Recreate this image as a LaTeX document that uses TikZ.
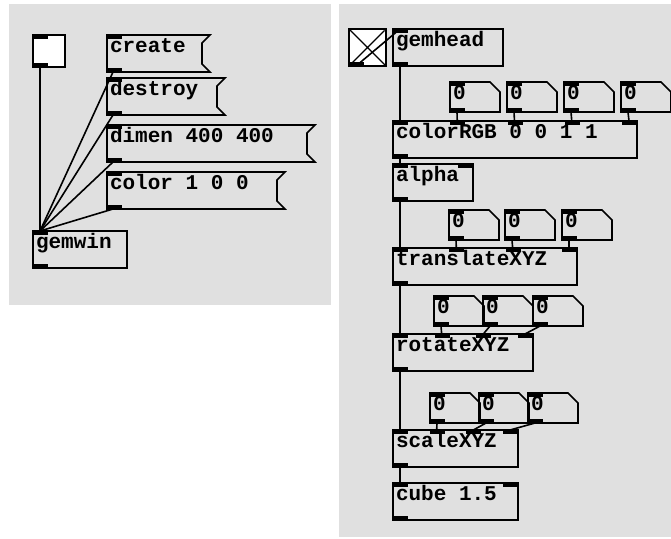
\documentclass[tikz,border=0pt]{standalone}
\usepackage{fontspec}
\usepackage{tikz}
\usetikzlibrary{calc}
\newfontfamily\pdmono{Liberation Mono}
\definecolor{canvasgray}{gray}{0.878}
\newcommand\pdfont{\pdmono\bfseries\fontsize{21}{21}\selectfont}
\tikzset{
  pdbox/.style={anchor=north west,line width=1.6pt,inner xsep=3pt,inner ysep=0pt,
                outer sep=0pt,font=\pdfont,align=left,text height=17pt,
                execute at begin node={\spaceskip=12.6pt\xspaceskip=12.6pt}},
  obj/.style={pdbox,draw,text width=#1,text depth=20pt},
  msg/.style={pdbox,text width=#1,text depth=20pt},
  num/.style={pdbox,text width=44pt,text depth=13pt},
  tgl/.style={draw,fill=white,line width=1.6pt,anchor=north west,inner sep=0pt,
              outer sep=0pt,minimum size=#1},
  boxline/.style={line width=1.6pt,line join=miter},
  wire/.style={line width=1.6pt},
  panel/.style={fill=canvasgray},
}
% message box outline with the notch on the right
\newcommand\msgframe[1]{\draw[boxline] (#1.north west) -- (#1.north east) -- ++(-8,8)
  -- ([xshift=-8pt,yshift=8pt]#1.south east) -- (#1.south east) -- (#1.south west) -- cycle;}
% number box outline, top right corner cut
\newcommand\numframe[1]{\draw[boxline] (#1.north west) -- ([xshift=-10pt]#1.north east)
  -- ([yshift=-10pt]#1.north east) -- (#1.south east) -- (#1.south west) -- cycle;}
% inlets: node, last index, spacing
\newcommand\inlets[3]{\foreach \k in {0,...,#2}{
    \fill ([xshift=\k*#3]#1.north west) rectangle ++(15,4);
    \coordinate (#1-in\k) at ([xshift=\k*#3+7]#1.north west);}}
\newcommand\outlet[1]{\fill (#1.south west) rectangle ++(15,-4);
  \coordinate (#1-out) at ([xshift=7pt]#1.south west);}

\begin{document}
\begin{tikzpicture}[x=1pt,y=-1pt]
\useasboundingbox (0,0) rectangle (671,538);
\fill[panel] (9,4) rectangle (331,305);
\fill[panel] (339,4) rectangle (671,537);

% window patch
\node[tgl=32pt] (tglwin) at (33,35) {};
\node[msg=97pt]  (create)  at (107,35)  {create};
\node[msg=112pt] (destroy) at (107,78)  {destroy};
\node[msg=202pt] (dimen)   at (107,125) {dimen 400 400};
\node[msg=172pt] (color)   at (107,172) {color 1 0 0};
\node[obj=88pt]  (gemwin)  at (33,231)  {gemwin};
\foreach \m in {create,destroy,dimen,color} {\msgframe{\m}}
\foreach \b in {tglwin,create,destroy,dimen,color,gemwin} {\inlets{\b}{0}{0}\outlet{\b}}
\draw[wire] (tglwin-out) -- (gemwin-in0);
\foreach \m in {create,destroy,dimen,color}
  \draw[wire] ([xshift=-1pt]\m-out) -- (gemwin-in0);

% render chain
\node[tgl=37pt] (tglhead) at (349,29) {};
\draw[line width=1.2pt,shorten <=2pt,shorten >=2pt]
  (tglhead.north west) -- (tglhead.south east) (tglhead.north east) -- (tglhead.south west);
\node[obj=104pt] (gemhead)      at (393,29)  {gemhead};
\node[obj=238pt] (colorRGB)     at (393,121) {colorRGB 0 0 1 1};
\node[obj=74pt]  (alpha)        at (393,164) {alpha};
\node[obj=178pt] (translateXYZ) at (393,248) {translateXYZ};
\node[obj=134pt] (rotateXYZ)    at (393,334) {rotateXYZ};
\node[obj=119pt] (scaleXYZ)     at (393,430) {scaleXYZ};
\node[obj=119pt] (cube)         at (393,483) {cube 1.5};
\foreach \i/\x in {a/450,b/507,c/564,d/621} \node[num] (rgb\i)   at (\x,82)  {0};
\foreach \i/\x in {a/449,b/505,c/562}       \node[num] (trans\i) at (\x,210) {0};
\foreach \i/\x in {a/434,b/483,c/533}       \node[num] (rot\i)   at (\x,296) {0};
\foreach \i/\x in {a/430,b/479,c/528}       \node[num] (scale\i) at (\x,393) {0};
\foreach \n in {rgba,rgbb,rgbc,rgbd,transa,transb,transc,rota,rotb,rotc,scalea,scaleb,scalec}
  {\numframe{\n}\inlets{\n}{0}{0}\outlet{\n}}

\outlet{tglhead}
\inlets{gemhead}{0}{0}\outlet{gemhead}
\inlets{colorRGB}{4}{57.25}\outlet{colorRGB}
\inlets{alpha}{1}{65}\outlet{alpha}
\inlets{translateXYZ}{3}{56.33}\outlet{translateXYZ}
\inlets{rotateXYZ}{3}{41.67}\outlet{rotateXYZ}
\inlets{scaleXYZ}{3}{36.67}\outlet{scaleXYZ}
\inlets{cube}{1}{110}\outlet{cube}

\draw[wire] (tglhead-out) -- (gemhead-in0);
\draw[wire] (gemhead-out) -- (colorRGB-in0);
\draw[wire] (colorRGB-out) -- (alpha-in0);
\draw[wire] (alpha-out) -- (translateXYZ-in0);
\draw[wire] (translateXYZ-out) -- (rotateXYZ-in0);
\draw[wire] (rotateXYZ-out) -- (scaleXYZ-in0);
\draw[wire] (scaleXYZ-out) -- (cube-in0);
\foreach \i/\k in {a/1,b/2,c/3,d/4} \draw[wire] (rgb\i-out) -- (colorRGB-in\k);
\foreach \i/\k in {a/1,b/2,c/3} {
  \draw[wire] (trans\i-out) -- (translateXYZ-in\k);
  \draw[wire] (rot\i-out) -- (rotateXYZ-in\k);
  \draw[wire] (scale\i-out) -- (scaleXYZ-in\k);
}
\end{tikzpicture}
\end{document}
